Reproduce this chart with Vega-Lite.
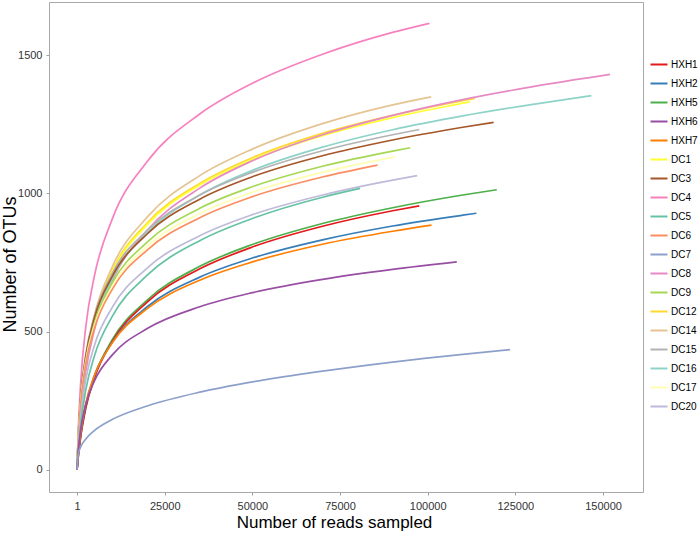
{
  "$schema": "https://vega.github.io/schema/vega-lite/v6.json",
  "width": 594,
  "height": 490,
  "autosize": {"type": "none"},
  "padding": {"left": 49, "top": 2, "right": 57, "bottom": 41},
  "background": "white",
  "config": {
    "view": {"stroke": "#a8a8a8", "strokeWidth": 1},
    "font": "Liberation Sans"
  },
  "data": {"values": [
    {"s":"DC4","x":1,"y":1},{"s":"DC4","x":300,"y":128},{"s":"DC4","x":1000,"y":309},{"s":"DC4","x":2500,"y":518},{"s":"DC4","x":5000,"y":704},{"s":"DC4","x":10000,"y":906},{"s":"DC4","x":20000,"y":1115},{"s":"DC4","x":35000,"y":1287},{"s":"DC4","x":50000,"y":1398},{"s":"DC4","x":70000,"y":1503},{"s":"DC4","x":90000,"y":1582},{"s":"DC4","x":100500,"y":1615},
    {"s":"DC14","x":1,"y":1},{"s":"DC14","x":300,"y":92},{"s":"DC14","x":1000,"y":233},{"s":"DC14","x":2500,"y":404},{"s":"DC14","x":5000,"y":561},{"s":"DC14","x":10000,"y":733},{"s":"DC14","x":20000,"y":914},{"s":"DC14","x":35000,"y":1064},{"s":"DC14","x":50000,"y":1160},{"s":"DC14","x":70000,"y":1252},{"s":"DC14","x":90000,"y":1320},{"s":"DC14","x":101000,"y":1349},
    {"s":"DC12","x":1,"y":1},{"s":"DC12","x":300,"y":94},{"s":"DC12","x":1000,"y":234},{"s":"DC12","x":2500,"y":401},{"s":"DC12","x":5000,"y":553},{"s":"DC12","x":10000,"y":719},{"s":"DC12","x":20000,"y":893},{"s":"DC12","x":35000,"y":1036},{"s":"DC12","x":50000,"y":1129},{"s":"DC12","x":70000,"y":1217},{"s":"DC12","x":90000,"y":1282},{"s":"DC12","x":110000,"y":1335},{"s":"DC12","x":113500,"y":1343},
    {"s":"DC1","x":1,"y":1},{"s":"DC1","x":300,"y":94},{"s":"DC1","x":1000,"y":232},{"s":"DC1","x":2500,"y":398},{"s":"DC1","x":5000,"y":549},{"s":"DC1","x":10000,"y":714},{"s":"DC1","x":20000,"y":887},{"s":"DC1","x":35000,"y":1030},{"s":"DC1","x":50000,"y":1122},{"s":"DC1","x":70000,"y":1209},{"s":"DC1","x":90000,"y":1274},{"s":"DC1","x":110000,"y":1326},{"s":"DC1","x":112000,"y":1331},
    {"s":"DC8","x":1,"y":1},{"s":"DC8","x":300,"y":74},{"s":"DC8","x":1000,"y":197},{"s":"DC8","x":2500,"y":356},{"s":"DC8","x":5000,"y":509},{"s":"DC8","x":10000,"y":682},{"s":"DC8","x":20000,"y":866},{"s":"DC8","x":35000,"y":1019},{"s":"DC8","x":50000,"y":1118},{"s":"DC8","x":70000,"y":1212},{"s":"DC8","x":90000,"y":1282},{"s":"DC8","x":110000,"y":1339},{"s":"DC8","x":130000,"y":1386},{"s":"DC8","x":152000,"y":1430},
    {"s":"DC16","x":1,"y":1},{"s":"DC16","x":300,"y":90},{"s":"DC16","x":1000,"y":224},{"s":"DC16","x":2500,"y":384},{"s":"DC16","x":5000,"y":530},{"s":"DC16","x":10000,"y":690},{"s":"DC16","x":20000,"y":857},{"s":"DC16","x":35000,"y":994},{"s":"DC16","x":50000,"y":1083},{"s":"DC16","x":70000,"y":1167},{"s":"DC16","x":90000,"y":1230},{"s":"DC16","x":110000,"y":1280},{"s":"DC16","x":130000,"y":1322},{"s":"DC16","x":146700,"y":1353},
    {"s":"DC15","x":1,"y":1},{"s":"DC15","x":300,"y":110},{"s":"DC15","x":1000,"y":256},{"s":"DC15","x":2500,"y":418},{"s":"DC15","x":5000,"y":559},{"s":"DC15","x":10000,"y":710},{"s":"DC15","x":20000,"y":866},{"s":"DC15","x":35000,"y":994},{"s":"DC15","x":50000,"y":1076},{"s":"DC15","x":70000,"y":1154},{"s":"DC15","x":90000,"y":1212},{"s":"DC15","x":97600,"y":1231},
    {"s":"DC3","x":1,"y":1},{"s":"DC3","x":300,"y":108},{"s":"DC3","x":1000,"y":252},{"s":"DC3","x":2500,"y":411},{"s":"DC3","x":5000,"y":551},{"s":"DC3","x":10000,"y":699},{"s":"DC3","x":20000,"y":853},{"s":"DC3","x":35000,"y":979},{"s":"DC3","x":50000,"y":1060},{"s":"DC3","x":70000,"y":1136},{"s":"DC3","x":90000,"y":1193},{"s":"DC3","x":110000,"y":1239},{"s":"DC3","x":118800,"y":1257},
    {"s":"DC9","x":1,"y":1},{"s":"DC9","x":300,"y":104},{"s":"DC9","x":1000,"y":244},{"s":"DC9","x":2500,"y":397},{"s":"DC9","x":5000,"y":532},{"s":"DC9","x":10000,"y":675},{"s":"DC9","x":20000,"y":824},{"s":"DC9","x":35000,"y":946},{"s":"DC9","x":50000,"y":1024},{"s":"DC9","x":70000,"y":1098},{"s":"DC9","x":90000,"y":1153},{"s":"DC9","x":95000,"y":1165},
    {"s":"DC17","x":1,"y":1},{"s":"DC17","x":300,"y":102},{"s":"DC17","x":1000,"y":239},{"s":"DC17","x":2500,"y":390},{"s":"DC17","x":5000,"y":522},{"s":"DC17","x":10000,"y":662},{"s":"DC17","x":20000,"y":808},{"s":"DC17","x":35000,"y":927},{"s":"DC17","x":50000,"y":1004},{"s":"DC17","x":70000,"y":1076},{"s":"DC17","x":90600,"y":1132},
    {"s":"DC6","x":1,"y":1},{"s":"DC6","x":300,"y":101},{"s":"DC6","x":1000,"y":235},{"s":"DC6","x":2500,"y":383},{"s":"DC6","x":5000,"y":513},{"s":"DC6","x":10000,"y":652},{"s":"DC6","x":20000,"y":795},{"s":"DC6","x":35000,"y":912},{"s":"DC6","x":50000,"y":988},{"s":"DC6","x":70000,"y":1059},{"s":"DC6","x":85700,"y":1102},
    {"s":"DC20","x":1,"y":1},{"s":"DC20","x":300,"y":77},{"s":"DC20","x":1000,"y":191},{"s":"DC20","x":2500,"y":327},{"s":"DC20","x":5000,"y":452},{"s":"DC20","x":10000,"y":587},{"s":"DC20","x":20000,"y":730},{"s":"DC20","x":35000,"y":847},{"s":"DC20","x":50000,"y":923},{"s":"DC20","x":70000,"y":994},{"s":"DC20","x":90000,"y":1048},{"s":"DC20","x":97000,"y":1064},
    {"s":"DC5","x":1,"y":1},{"s":"DC5","x":300,"y":61},{"s":"DC5","x":1000,"y":160},{"s":"DC5","x":2500,"y":290},{"s":"DC5","x":5000,"y":414},{"s":"DC5","x":10000,"y":554},{"s":"DC5","x":20000,"y":704},{"s":"DC5","x":35000,"y":829},{"s":"DC5","x":50000,"y":909},{"s":"DC5","x":70000,"y":986},{"s":"DC5","x":80700,"y":1018},
    {"s":"HXH5","x":1,"y":1},{"s":"HXH5","x":300,"y":42},{"s":"HXH5","x":1000,"y":118},{"s":"HXH5","x":2500,"y":226},{"s":"HXH5","x":5000,"y":338},{"s":"HXH5","x":10000,"y":470},{"s":"HXH5","x":20000,"y":614},{"s":"HXH5","x":35000,"y":736},{"s":"HXH5","x":50000,"y":815},{"s":"HXH5","x":70000,"y":891},{"s":"HXH5","x":90000,"y":948},{"s":"HXH5","x":110000,"y":994},{"s":"HXH5","x":119700,"y":1013},
    {"s":"HXH1","x":1,"y":1},{"s":"HXH1","x":300,"y":41},{"s":"HXH1","x":1000,"y":116},{"s":"HXH1","x":2500,"y":224},{"s":"HXH1","x":5000,"y":334},{"s":"HXH1","x":10000,"y":464},{"s":"HXH1","x":20000,"y":607},{"s":"HXH1","x":35000,"y":727},{"s":"HXH1","x":50000,"y":806},{"s":"HXH1","x":70000,"y":881},{"s":"HXH1","x":90000,"y":937},{"s":"HXH1","x":97600,"y":955},
    {"s":"HXH2","x":1,"y":1},{"s":"HXH2","x":300,"y":48},{"s":"HXH2","x":1000,"y":129},{"s":"HXH2","x":2500,"y":237},{"s":"HXH2","x":5000,"y":342},{"s":"HXH2","x":10000,"y":461},{"s":"HXH2","x":20000,"y":590},{"s":"HXH2","x":35000,"y":697},{"s":"HXH2","x":50000,"y":766},{"s":"HXH2","x":70000,"y":832},{"s":"HXH2","x":90000,"y":882},{"s":"HXH2","x":110000,"y":921},{"s":"HXH2","x":113900,"y":928},
    {"s":"HXH7","x":1,"y":1},{"s":"HXH7","x":300,"y":50},{"s":"HXH7","x":1000,"y":133},{"s":"HXH7","x":2500,"y":240},{"s":"HXH7","x":5000,"y":343},{"s":"HXH7","x":10000,"y":459},{"s":"HXH7","x":20000,"y":583},{"s":"HXH7","x":35000,"y":686},{"s":"HXH7","x":50000,"y":752},{"s":"HXH7","x":70000,"y":816},{"s":"HXH7","x":90000,"y":863},{"s":"HXH7","x":101100,"y":885},
    {"s":"HXH6","x":1,"y":1},{"s":"HXH6","x":300,"y":59},{"s":"HXH6","x":1000,"y":142},{"s":"HXH6","x":2500,"y":237},{"s":"HXH6","x":5000,"y":323},{"s":"HXH6","x":10000,"y":415},{"s":"HXH6","x":20000,"y":511},{"s":"HXH6","x":35000,"y":590},{"s":"HXH6","x":50000,"y":641},{"s":"HXH6","x":70000,"y":689},{"s":"HXH6","x":90000,"y":725},{"s":"HXH6","x":108300,"y":752},
    {"s":"DC7","x":1,"y":1},{"s":"DC7","x":300,"y":54},{"s":"DC7","x":1000,"y":82},{"s":"DC7","x":2500,"y":112},{"s":"DC7","x":5000,"y":143},{"s":"DC7","x":10000,"y":182},{"s":"DC7","x":20000,"y":231},{"s":"DC7","x":35000,"y":281},{"s":"DC7","x":50000,"y":318},{"s":"DC7","x":70000,"y":357},{"s":"DC7","x":90000,"y":390},{"s":"DC7","x":110000,"y":418},{"s":"DC7","x":123500,"y":435}
  ]},
  "mark": {"type": "line", "strokeWidth": 1.7, "interpolate": "monotone"},
  "encoding": {
    "x": {
      "field": "x", "type": "quantitative",
      "scale": {"domain": [-8000, 161400], "nice": false, "zero": false},
      "axis": {
        "title": "Number of reads sampled",
        "values": [1, 25000, 50000, 75000, 100000, 125000, 150000],
        "format": "d",
        "grid": false, "domain": false,
        "tickColor": "#a0a0a0", "tickSize": 3,
        "labelFont": "Liberation Sans", "labelFontSize": 11, "labelColor": "#333333", "labelPadding": 5,
        "titleFont": "Liberation Sans", "titleFontSize": 17, "titleFontWeight": "normal", "titleColor": "#000000",
        "titleX": 285, "titleAlign": "center", "titleY": 30, "titleBaseline": "middle"
      }
    },
    "y": {
      "field": "y", "type": "quantitative",
      "scale": {"domain": [-80, 1692], "nice": false, "zero": false},
      "axis": {
        "title": "Number of OTUs",
        "values": [0, 500, 1000, 1500],
        "format": "d",
        "grid": false, "domain": false,
        "tickColor": "#a0a0a0", "tickSize": 3,
        "labelFont": "Liberation Sans", "labelFontSize": 11, "labelColor": "#333333", "labelPadding": 4,
        "titleFont": "Liberation Sans", "titleFontSize": 18, "titleFontWeight": "normal", "titleColor": "#000000",
        "titleX": -39, "titleY": 262, "titleAlign": "center", "titleBaseline": "middle"
      }
    },
    "color": {
      "field": "s", "type": "nominal",
      "scale": {
        "domain": ["HXH1","HXH2","HXH5","HXH6","HXH7","DC1","DC3","DC4","DC5","DC6","DC7","DC8","DC9","DC12","DC14","DC15","DC16","DC17","DC20"],
        "range": ["#e41a1c","#377eb8","#4daf4a","#984ea3","#ff7f00","#ffff33","#a65628","#f781bf","#66c2a5","#fc8d62","#8da0cb","#e78ac3","#a6d854","#ffd92f","#e5c494","#b3b3b3","#8dd3c7","#ffffb3","#bebada"]
      },
      "legend": {
        "title": null,
        "orient": "none",
        "legendX": 600,
        "legendY": 57,
        "symbolType": "stroke",
        "symbolSize": 290,
        "symbolStrokeWidth": 2,
        "labelFont": "Liberation Sans",
        "labelFontSize": 10,
        "labelColor": "#000000",
        "labelOffset": 2,
        "rowPadding": 8,
        "clipHeight": 11
      }
    }
  }
}
